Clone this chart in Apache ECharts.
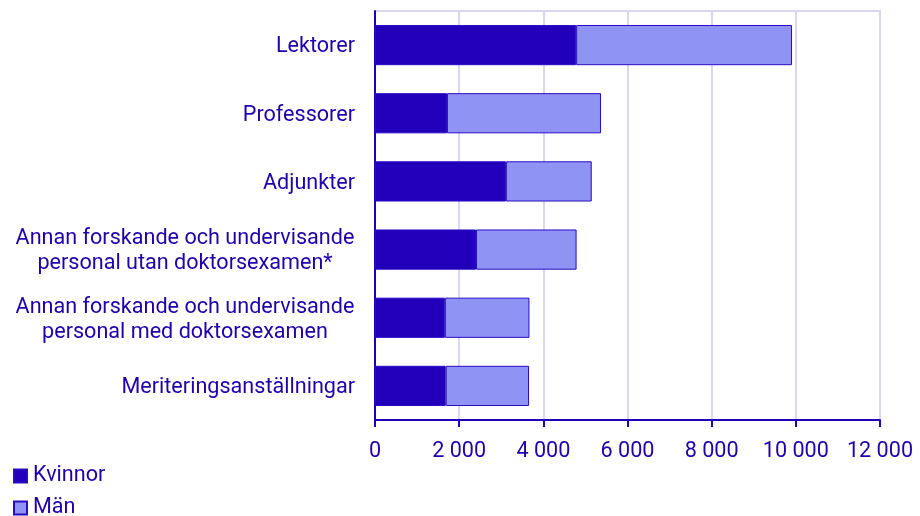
<!DOCTYPE html>
<html>
<head>
<meta charset="utf-8">
<script src="https://cdn.jsdelivr.net/npm/echarts@6/dist/echarts.min.js"></script>
<style>
  html, body { margin: 0; padding: 0; background: #fff; }
  #chart { width: 920px; height: 516px; }
</style>
</head>
<body>
<div id="chart"></div>
<script>
const categories = [
  'Lektorer',
  'Professorer',
  'Adjunkter',
  'Annan forskande och undervisande\npersonal utan doktorsexamen*',
  'Annan forskande och undervisande\npersonal med doktorsexamen',
  'Meriteringsanställningar'
]
const kvinnor = [4780, 1710, 3110, 2400, 1660, 1680]
const man = [5130, 3660, 2040, 2390, 2010, 1980]
const seriesNames = ['Kvinnor', 'Män']

const textColor = '#2200aa'
const darkBlue = '#2200bb'
const lightBlue = '#8f93f3'
const fontSize = 21.6

const fmt = v => String(v).replace(/\B(?=(\d{3})+(?!\d))/g, '\u00a0')

let chart = echarts.init(document.getElementById('chart'))
chart.setOption({
  animation: false,
  textStyle: {fontFamily: 'Roboto', color: textColor},
  grid: {
    left: 375, right: 40, top: 11, bottom: 96,
    show: true, borderColor: '#d8d6f2', borderWidth: 2
  },
  legend: {
    orient: 'vertical',
    left: 13,
    top: 465,
    height: 60,
    padding: 0,
    itemWidth: 13,
    itemHeight: 13,
    itemGap: 10,
    icon: 'rect',
    data: seriesNames,
    textStyle: {fontSize: fontSize, lineHeight: 22, color: textColor, padding: [0, 0, 0, 1]}
  },
  xAxis: {
    type: 'value',
    min: 0,
    max: 12000,
    interval: 2000,
    axisLine: {show: true, lineStyle: {color: darkBlue, width: 2}},
    axisTick: {show: true, length: 7, lineStyle: {color: darkBlue, width: 2}},
    splitLine: {show: true, lineStyle: {color: '#d8d6f2', width: 2}},
    axisLabel: {
      fontSize: fontSize, color: textColor, margin: 21,
      formatter: fmt
    }
  },
  yAxis: {
    type: 'category',
    inverse: true,
    data: categories,
    axisLine: {show: true, lineStyle: {color: darkBlue, width: 2}},
    axisTick: {show: false},
    axisLabel: {
      fontSize: fontSize, color: textColor, margin: 20, lineHeight: 25,
      padding: [4, 0, 0, 0],
      formatter: v => {
        if (v.indexOf('\n') < 0) return v
        return v.split('\n').map(s => '{c|' + s + '}').join('\n')
      },
      rich: {
        c: {width: 340, align: 'center', fontSize: fontSize, lineHeight: 25, color: textColor}
      }
    }
  },
  series: [
    {
      name: seriesNames[0],
      type: 'bar',
      stack: 'total',
      barCategoryGap: '41%',
      data: kvinnor,
      itemStyle: {color: darkBlue, borderColor: '#2a0cc6', borderWidth: 1}
    },
    {
      name: seriesNames[1],
      type: 'bar',
      stack: 'total',
      barCategoryGap: '41%',
      data: man,
      itemStyle: {color: lightBlue, borderColor: '#2a0cc6', borderWidth: 1}
    }
  ]
})
</script>
</body>
</html>
